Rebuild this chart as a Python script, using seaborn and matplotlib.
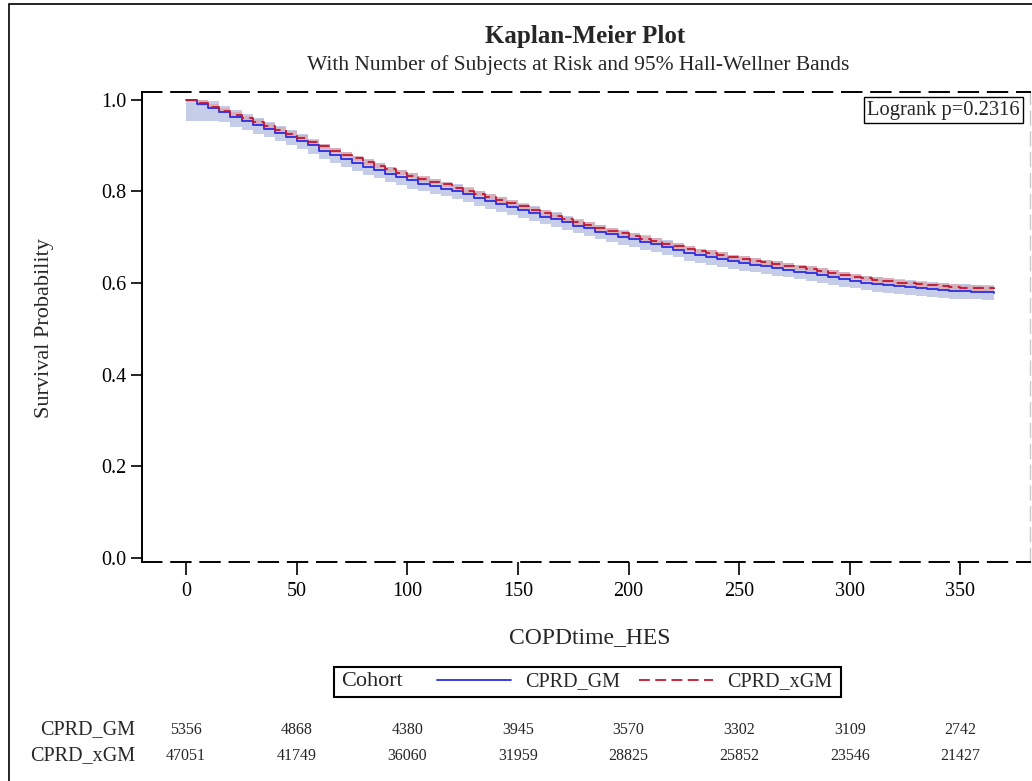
import matplotlib
matplotlib.use("Agg")
import numpy as np
import pandas as pd
import matplotlib.pyplot as plt
import seaborn as sns
from matplotlib.lines import Line2D
from matplotlib.patches import Rectangle
import matplotlib.transforms as mtransforms

# ---------------- data ----------------
days = list(range(0, 365, 5)) + [365]

gm_surv = [1.000, 0.991, 0.982, 0.972, 0.963, 0.954, 0.945, 0.937, 0.928, 0.919,
           0.910, 0.900, 0.889, 0.880, 0.870, 0.862, 0.854, 0.846, 0.838, 0.831,
           0.824, 0.817, 0.811, 0.806, 0.800, 0.794, 0.786, 0.779, 0.772, 0.765,
           0.759, 0.752, 0.745, 0.739, 0.732, 0.725, 0.719, 0.712, 0.706, 0.700,
           0.695, 0.689, 0.684, 0.678, 0.673, 0.666, 0.660, 0.656, 0.652, 0.647,
           0.643, 0.640, 0.636, 0.632, 0.629, 0.625, 0.621, 0.617, 0.613, 0.609,
           0.605, 0.601, 0.598, 0.595, 0.593, 0.591, 0.589, 0.587, 0.585, 0.583,
           0.582, 0.581, 0.580, 0.579]

xgm_surv = [1.000, 0.993, 0.985, 0.976, 0.967, 0.959, 0.951, 0.942, 0.934, 0.925,
            0.917, 0.907, 0.898, 0.889, 0.880, 0.872, 0.864, 0.856, 0.848, 0.841,
            0.834, 0.827, 0.821, 0.815, 0.808, 0.801, 0.795, 0.788, 0.781, 0.774,
            0.767, 0.760, 0.753, 0.746, 0.739, 0.732, 0.726, 0.720, 0.714, 0.708,
            0.703, 0.697, 0.692, 0.686, 0.681, 0.675, 0.669, 0.665, 0.661, 0.656,
            0.652, 0.648, 0.645, 0.641, 0.638, 0.634, 0.630, 0.626, 0.622, 0.618,
            0.614, 0.610, 0.607, 0.604, 0.601, 0.599, 0.597, 0.595, 0.593, 0.591,
            0.590, 0.589, 0.588, 0.587]

gm_lo = [0.954, 0.954, 0.954, 0.951, 0.941, 0.934, 0.926, 0.918, 0.910, 0.901,
         0.892, 0.882, 0.871, 0.862, 0.852, 0.844, 0.836, 0.828, 0.820, 0.813,
         0.806, 0.800, 0.794, 0.789, 0.783, 0.777, 0.769, 0.762, 0.755, 0.748,
         0.742, 0.735, 0.728, 0.722, 0.715, 0.708, 0.702, 0.695, 0.689, 0.683,
         0.678, 0.672, 0.667, 0.661, 0.656, 0.649, 0.643, 0.639, 0.635, 0.630,
         0.626, 0.623, 0.619, 0.615, 0.612, 0.608, 0.604, 0.600, 0.596, 0.592,
         0.588, 0.584, 0.581, 0.578, 0.576, 0.574, 0.572, 0.570, 0.568, 0.566,
         0.565, 0.564, 0.563, 0.562]

gm_hi = [1.000, 1.000, 0.997, 0.987, 0.978, 0.969, 0.960, 0.952, 0.943, 0.934,
         0.925, 0.915, 0.904, 0.895, 0.885, 0.877, 0.869, 0.861, 0.853, 0.846,
         0.839, 0.832, 0.826, 0.821, 0.815, 0.809, 0.801, 0.794, 0.787, 0.780,
         0.774, 0.767, 0.760, 0.754, 0.747, 0.740, 0.734, 0.727, 0.721, 0.715,
         0.710, 0.704, 0.699, 0.693, 0.688, 0.681, 0.675, 0.671, 0.667, 0.662,
         0.658, 0.655, 0.651, 0.647, 0.644, 0.640, 0.636, 0.632, 0.628, 0.624,
         0.620, 0.616, 0.613, 0.610, 0.608, 0.606, 0.604, 0.602, 0.600, 0.598,
         0.597, 0.596, 0.595, 0.594]

xgm_lo = [0.995, 0.987, 0.979, 0.970, 0.961, 0.953, 0.945, 0.936, 0.928, 0.919,
          0.911, 0.901, 0.892, 0.883, 0.874, 0.866, 0.858, 0.850, 0.842, 0.835,
          0.828, 0.821, 0.815, 0.809, 0.802, 0.795, 0.789, 0.782, 0.775, 0.768,
          0.761, 0.754, 0.747, 0.740, 0.733, 0.726, 0.720, 0.714, 0.708, 0.702,
          0.697, 0.691, 0.686, 0.680, 0.675, 0.669, 0.663, 0.659, 0.655, 0.650,
          0.646, 0.642, 0.639, 0.635, 0.632, 0.628, 0.624, 0.620, 0.616, 0.612,
          0.608, 0.604, 0.601, 0.598, 0.595, 0.593, 0.591, 0.589, 0.587, 0.585,
          0.584, 0.583, 0.582, 0.581]

xgm_hi = [1.000, 0.999, 0.991, 0.982, 0.973, 0.965, 0.957, 0.948, 0.940, 0.931,
          0.923, 0.913, 0.904, 0.895, 0.886, 0.878, 0.870, 0.862, 0.854, 0.847,
          0.840, 0.833, 0.827, 0.821, 0.814, 0.807, 0.801, 0.794, 0.787, 0.780,
          0.773, 0.766, 0.759, 0.752, 0.745, 0.738, 0.732, 0.726, 0.720, 0.714,
          0.709, 0.703, 0.698, 0.692, 0.687, 0.681, 0.675, 0.671, 0.667, 0.662,
          0.658, 0.654, 0.651, 0.647, 0.644, 0.640, 0.636, 0.632, 0.628, 0.624,
          0.620, 0.616, 0.613, 0.610, 0.607, 0.605, 0.603, 0.601, 0.599, 0.597,
          0.596, 0.595, 0.594, 0.593]

cohorts = ["CPRD_GM", "CPRD_xGM"]
risk_times = [0, 50, 100, 150, 200, 250, 300, 350]
gm_risk = [5356, 4868, 4380, 3945, 3570, 3302, 3109, 2742]
xgm_risk = [47051, 41749, 36060, 31959, 28825, 25852, 23546, 21427]
y_ticks = [0.0, 0.2, 0.4, 0.6, 0.8, 1.0]
logrank_text = "Logrank p=0.2316"

# ---------------- styling ----------------
BLUE = "#2c2ce0"
RED = "#c0182f"
BLUE_BAND = "#c5cde8"
RED_BAND = "#d8aab4"

sns.set_theme(style="ticks")
plt.rcParams["font.family"] = ["Liberation Serif", "DejaVu Serif"]

W, H = 1032, 781
fig = plt.figure(figsize=(W / 100, H / 100), dpi=100)


def fx(px):
    return px / W


def fy(py):
    return 1 - py / H


ax = fig.add_axes([fx(142), fy(562.3), fx(1030) - fx(142), fy(92.2) - fy(562.3)])

# confidence bands
ax.fill_between(days, gm_lo, gm_hi, step="post", color=BLUE_BAND, lw=0, zorder=1)
ax.fill_between(days, xgm_lo, xgm_hi, step="post", color=RED_BAND, alpha=0.85, lw=0, zorder=2)

df = pd.concat([
    pd.DataFrame({"time": days, "surv": gm_surv, "Cohort": cohorts[0]}),
    pd.DataFrame({"time": days, "surv": xgm_surv, "Cohort": cohorts[1]}),
], ignore_index=True)

sns.lineplot(data=df, x="time", y="surv", hue="Cohort", style="Cohort",
             palette={cohorts[0]: BLUE, cohorts[1]: RED},
             dashes={cohorts[0]: "", cohorts[1]: (6, 3)},
             drawstyle="steps-post", estimator=None, legend=False,
             linewidth=1.3, ax=ax, zorder=3)

ax.set_xlim(-20, 381.5)
ax.set_ylim(-0.0096, 1.0163)
ax.set_xticks(risk_times)
ax.set_xticklabels([str(t) for t in risk_times])
ax.set_yticks(y_ticks)
ax.set_yticklabels([f"{v:.1f}" for v in y_ticks])
ax.set_xlabel("")
ax.set_ylabel("")

for s in ["top", "bottom"]:
    ax.spines[s].set_linestyle((0, (10, 5)))
    ax.spines[s].set_color("black")
    ax.spines[s].set_linewidth(1.4)
ax.spines["right"].set_linestyle((0, (10, 5)))
ax.spines["right"].set_color("#c8c8c8")
ax.spines["right"].set_linewidth(1.0)
ax.spines["left"].set_color("black")
ax.spines["left"].set_linewidth(1.4)

ax.tick_params(axis="x", bottom=True, direction="out", length=9, width=1.2,
               labelsize=14.5, pad=5, colors="black")
ax.tick_params(axis="y", left=True, direction="out", length=8, width=1.2,
               labelsize=14.5, pad=3, colors="black")

# titles and axis labels
fig.text(fx(585), fy(36), "Kaplan-Meier Plot", ha="center", va="center",
         fontsize=18, fontweight="bold")
fig.text(fx(578), fy(65), "With Number of Subjects at Risk and 95% Hall-Wellner Bands",
         ha="center", va="center", fontsize=15.5)
fig.text(fx(45), fy(328), "Survival Probability", rotation=90, ha="center",
         va="center", fontsize=16)
fig.text(fx(590), fy(638), "COPDtime_HES", ha="center", va="center", fontsize=17)

# logrank box
fig.text(fx(1020), fy(110), logrank_text, ha="right", va="center", fontsize=14.8,
         bbox=dict(boxstyle="square,pad=0.15", fc="white", ec="black", lw=1))

# legend
handles = [Line2D([], [], color=BLUE, lw=1.3),
           Line2D([], [], color=RED, lw=1.3, linestyle=(0, (6, 3)))]
fig.legend(handles, cohorts, loc="center", bbox_to_anchor=(fx(634.5), fy(682)),
           ncol=2, frameon=False, fontsize=14.5, handlelength=3.7,
           handletextpad=0.7, columnspacing=0.9)
fig.text(fx(341), fy(682), "Cohort", ha="left", va="center", fontsize=16)
fig.add_artist(Rectangle((fx(334), fy(697)), fx(841) - fx(334), fy(667) - fy(697),
                         transform=fig.transFigure, fill=False, ec="black", lw=1.5))

# at-risk table
trans = mtransforms.blended_transform_factory(ax.transData, fig.transFigure)
for row_y, name, vals in [(730, cohorts[0], gm_risk), (756, cohorts[1], xgm_risk)]:
    fig.text(fx(135), fy(row_y), name, ha="right", va="center", fontsize=14.5)
    for t, v in zip(risk_times, vals):
        ax.text(t, fy(row_y), str(v), transform=trans, ha="center", va="center",
                fontsize=11.5, clip_on=False)

# outer frame
fig.add_artist(Rectangle((fx(9), -0.1), 1.2, fy(4) + 0.1, transform=fig.transFigure,
                         fill=False, ec="black", lw=1.2))

fig.savefig("out.png", dpi=100)
